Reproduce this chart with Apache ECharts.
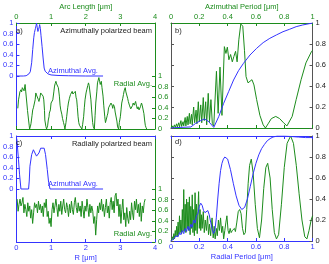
<!DOCTYPE html>
<html><head><meta charset="utf-8">
<script src="https://cdn.jsdelivr.net/npm/echarts@6/dist/echarts.min.js"></script>
<style>html,body{margin:0;padding:0;background:#fff}#c{width:329px;height:264px}</style>
</head><body><div id="c"></div>
<script>
// ---- data ----
const yTicks = [0, 0.2, 0.4, 0.6, 0.8, 1];
const arcTicks = [0, 1, 2, 3, 4];

// panel a) azimuthally polarized beam
const aAzimX = [0,0.05,0.1,0.2,0.28,0.32,0.36,0.40,0.44,0.47,0.50,0.52,0.55,0.57,0.58,0.60,0.62,0.64,0.66,0.67,0.69,0.71,0.74,0.77,0.80,0.83,0.87,0.91,1.0,1.2,1.5,2.0,2.5];
const aAzimY = [0,0.005,0,0,0.005,0.03,0.04,0.08,0.25,0.5,0.72,0.82,0.9,0.96,1.0,0.92,0.84,0.88,0.93,0.97,0.9,0.76,0.56,0.34,0.15,0.09,0.06,0.04,0.02,0.01,0.005,0,0];
const aRadX = [0.04,0.06,0.08,0.10,0.13,0.15,0.17,0.19,0.21,0.22,0.25,0.27,0.30,0.32,0.35,0.37,0.38,0.40,0.42,0.45,0.47,0.49,0.51,0.54,0.56,0.58,0.61,0.63,0.65,0.68,0.70,0.72,0.75,0.77,0.79,0.81,0.82,0.85,0.87,0.90,0.92,0.94,0.95,0.98,1.00,1.02,1.05,1.08,1.10,1.12,1.14,1.16,1.19,1.21,1.24,1.26,1.28,1.31,1.33,1.36,1.38,1.40,1.43,1.45,1.48,1.50,1.53,1.56,1.59,1.61,1.63,1.66,1.68,1.70,1.72,1.74,1.76,1.78,1.80,1.82,1.85,1.87,1.89,1.91,1.94,1.96,1.98,2.01,2.03,2.06,2.08,2.10,2.12,2.15,2.17,2.20,2.22,2.25,2.27,2.29,2.32,2.34,2.36,2.38,2.40,2.42,2.45,2.47,2.50,2.52,2.55,2.57,2.59,2.62,2.64,2.66,2.69,2.71,2.73,2.76,2.78,2.80,2.83,2.85,2.87,2.90,2.92,2.95,2.97,3.00,3.02,3.04,3.07,3.09,3.11,3.14,3.16,3.18,3.21,3.23,3.26,3.28,3.30,3.33,3.35,3.37,3.40,3.42,3.44,3.47,3.49,3.51,3.54,3.56,3.58,3.61,3.63,3.65,3.68,3.70,3.72,3.74,3.76];
const aRadY = [0.39,0.55,0.62,0.70,0.74,0.70,0.78,0.81,0.75,0.72,0.84,0.70,0.49,0.35,0.17,0.06,0,0.04,0.10,0.25,0.36,0.40,0.42,0.55,0.68,0.64,0.62,0.56,0.52,0.60,0.68,0.66,0.71,0.62,0.55,0.35,0.17,0.05,0,0.06,0.17,0.23,0.30,0.36,0.49,0.50,0.55,0.70,0.81,0.86,0.90,0.85,0.87,0.78,0.62,0.45,0.36,0.28,0.20,0.12,0.07,0,0.12,0.23,0.40,0.49,0.58,0.65,0.68,0.71,0.66,0.68,0.64,0.71,0.60,0.55,0.40,0.23,0.12,0.07,0.10,0.05,0,0.08,0.23,0.40,0.55,0.68,0.74,0.82,0.87,0.82,0.81,0.55,0.36,0.12,0.04,0,0.25,0.49,0.70,0.87,0.92,0.97,0.90,0.84,0.90,0.78,0.62,0.45,0.23,0.12,0.17,0.25,0.30,0.40,0.42,0.38,0.49,0.45,0.39,0.46,0.42,0.32,0.29,0.15,0.04,0,0.12,0.23,0.36,0.49,0.58,0.65,0.72,0.78,0.70,0.68,0.58,0.52,0.45,0.42,0.38,0.36,0.44,0.49,0.45,0.46,0.52,0.42,0.38,0.42,0.36,0.33,0.42,0.49,0.45,0.42,0.29,0.17,0.07,0.03,0];

// panel b) azimuthal period spectrum
const bAzimX = [0,0.07,0.14,0.174,0.209,0.237,0.267,0.302,0.337,0.372,0.407,0.442,0.477,0.512,0.558,0.605,0.651,0.698,0.744,0.791,0.837,0.884,0.93,1.0];
const bAzimY = [0,0.006,0.01,0.044,0.07,0.086,0.06,0.006,0.108,0.235,0.346,0.457,0.546,0.616,0.695,0.759,0.813,0.854,0.886,0.917,0.94,0.965,0.981,1.0];
const bRadX = [0,0.01,0.015,0.025,0.03,0.04,0.045,0.055,0.06,0.07,0.075,0.085,0.09,0.1,0.105,0.115,0.12,0.13,0.135,0.145,0.15,0.16,0.167,0.177,0.183,0.193,0.2,0.21,0.217,0.228,0.235,0.245,0.252,0.263,0.272,0.282,0.292,0.302,0.321,0.333,0.346,0.36,0.377,0.388,0.398,0.409,0.421,0.433,0.444,0.456,0.467,0.479,0.493,0.507,0.519,0.53,0.544,0.558,0.572,0.586,0.605,0.628,0.651,0.667,0.686,0.709,0.74,0.767,0.795,0.819,0.833,0.856,0.884,0.919,0.953,0.993,1.0];
const bRadY = [0,0.02,0,0.03,0.005,0.04,0.01,0.05,0.01,0.07,0.015,0.06,0.02,0.1,0.02,0.11,0.03,0.14,0.04,0.13,0.03,0.2,0.05,0.17,0.04,0.25,0.06,0.22,0.05,0.29,0.07,0.25,0.03,0.33,0.06,0.27,0.04,0.02,0.54,0.14,0.58,0.12,0.775,0.71,0.77,0.65,0.70,0.63,0.68,0.73,0.63,0.84,0.99,0.97,0.74,0.49,0.43,0.44,0.46,0.41,0.27,0.12,0.03,0,0.04,0.09,0.11,0.09,0.05,0.02,0.02,0.11,0.27,0.46,0.62,0.73,0.74];

// panel c) radially polarized beam
const cAzimX = [0.01,0.03,0.06,0.09,0.13,0.35,0.37,0.39,0.44,0.49,0.53,0.58,0.61,0.65,0.70,0.75,0.80,0.84,0.89,0.93,0.97,2.5];
const cAzimY = [0.95,0.8,0.55,0.28,0,0,0.15,0.43,0.65,0.74,0.73,0.62,0.59,0.68,0.77,0.80,0.77,0.65,0.37,0.12,0,0];
const cRadStart = 0.02, cRadStep = 0.028; // sampling grid of the radial average (R, µm)
const cRadY = [0.81,0.58,0.71,0.81,0.68,0.74,0.84,0.55,0.71,0.61,0.48,0.74,0.58,0.68,0.45,0.61,0.35,0.55,0.74,0.65,0.71,0.55,0.77,0.61,0.71,0.55,0.68,0.48,0.74,0.65,0.81,0.48,0.58,0.35,0.45,0.29,0.61,0.74,0.55,0.68,0.81,0.65,0.48,0.71,0.58,0.77,0.52,0.68,0.81,0.61,0.55,0.74,0.65,0.48,0.71,0.55,0.77,0.61,0.52,0.74,0.84,0.65,0.55,0.74,0.58,0.68,0.48,0.77,0.61,0.45,0.68,0.58,0.81,0.65,0.48,0.71,0.55,0.68,0.58,0.35,0.48,0.13,0.42,0.68,0.55,0.74,0.61,0.81,0.58,0.71,0.48,0.65,0.81,0.55,0.68,0.45,0.74,0.84,0.61,0.77,0.55,0.87,0.92,0.68,0.81,0.48,0.71,0.35,0.61,0.81,0.42,0.55,0.29,0.65,0.45,0.35,0.58,0.42,0.74,0.55,0.42,0.77,0.61,0.81,0.55,0.71,0.48,0.74,0.39,0.68,0.55,0.74,0.81];

// panel d) radial period spectrum
const dAzimX = [0,0.02,0.035,0.05,0.06,0.07,0.08,0.09,0.1,0.11,0.12,0.13,0.14,0.15,0.16,0.17,0.18,0.19,0.2,0.21,0.22,0.23,0.24,0.25,0.26,0.27,0.28,0.29,0.3,0.31,0.32,0.33,0.34,0.35,0.36,0.37,0.38,0.39,0.4,0.42,0.44,0.46,0.48,0.5,0.51,0.52,0.54,0.56,0.58,0.6,0.62,0.64,0.66,0.68,0.7,0.72,0.75,0.8,0.85,0.9,0.95,1.0];
const dAzimY = [0,0.02,0.05,0.04,0.08,0.06,0.1,0.07,0.12,0.09,0.14,0.1,0.16,0.13,0.2,0.17,0.24,0.26,0.33,0.36,0.34,0.29,0.27,0.28,0.29,0.25,0.18,0.12,0.07,0.1,0.22,0.4,0.55,0.67,0.74,0.78,0.8,0.8,0.78,0.68,0.55,0.43,0.34,0.30,0.30,0.32,0.40,0.52,0.64,0.74,0.82,0.88,0.92,0.955,0.975,0.99,1.0,1.0,0.995,0.99,0.985,0.985];
const dRadX = [0,0.01,0.015,0.02,0.025,0.03,0.035,0.04,0.045,0.05,0.055,0.06,0.065,0.07,0.075,0.08,0.085,0.09,0.095,0.1,0.105,0.11,0.115,0.12,0.125,0.13,0.135,0.14,0.145,0.15,0.155,0.16,0.165,0.17,0.175,0.18,0.185,0.19,0.195,0.2,0.205,0.21,0.215,0.22,0.228,0.235,0.242,0.25,0.258,0.265,0.272,0.28,0.29,0.298,0.305,0.312,0.32,0.327,0.335,0.342,0.35,0.358,0.365,0.372,0.38,0.388,0.395,0.403,0.41,0.418,0.425,0.433,0.44,0.448,0.455,0.465,0.475,0.485,0.495,0.505,0.515,0.525,0.535,0.545,0.555,0.567,0.58,0.595,0.61,0.625,0.64,0.655,0.67,0.683,0.7,0.715,0.73,0.745,0.76,0.78,0.8,0.82,0.845,0.865,0.885,0.905,0.925,0.945,0.96,0.975,0.99,1.0];
const dRadY = [0,0.04,0.01,0.07,0.02,0.1,0.04,0.14,0.05,0.18,0.06,0.24,0.08,0.2,0.07,0.3,0.09,0.49,0.1,0.35,0.08,0.4,0.12,0.37,0.1,0.42,0.06,0.33,0.12,0.44,0.08,0.3,0.05,0.46,0.1,0.35,0.07,0.28,0.47,0.12,0.3,0.1,0.25,0.12,0.28,0.08,0.2,0.1,0.24,0.06,0.16,0.05,0.22,0.03,0.14,0.02,0.12,0.05,0.2,0.1,0.22,0.08,0.14,0.02,0.1,0.18,0.24,0.1,0.07,0.12,0.08,0.1,0.09,0.12,0.09,0.18,0.28,0.3,0.26,0.12,0.06,0.08,0.3,0.55,0.72,0.78,0.65,0.35,0.12,0.03,0.2,0.5,0.7,0.74,0.6,0.3,0.08,0.02,0.06,0.35,0.7,0.93,1.0,0.93,0.72,0.45,0.2,0.04,0.02,0.1,0.2,0.24];

// ---- chart ----
const BLUE = '#3434ff', GREEN = '#1c8c1c', DARK = '#222', GRAY = '#555';
const FONT = 'Liberation Sans';
const FS = 7.5;
const zip = (xs, ys) => xs.map((x, i) => [x, ys[i]]);
const cRadData = cRadY.map((v, i) => [cRadStart + i * cRadStep, v]);

function xAx(grid, pos, min, max, interval, color, opts) {
  opts = opts || {};
  return {
    gridIndex: grid, type: 'value', position: pos, min, max, interval,
    axisLine: { show: true, onZero: false, lineStyle: { color, width: 1 } },
    axisTick: { show: true, inside: true, length: 3, lineStyle: { color } },
    axisLabel: { show: !!opts.labels, color, fontSize: FS, fontFamily: FONT, margin: 2 },
    splitLine: { show: false },
    name: opts.name || '', nameLocation: 'middle', nameGap: opts.nameGap || 12,
    nameTextStyle: { color, fontSize: FS, fontFamily: FONT }
  };
}
function yAx(grid, pos, min, max, color, labelColor, labels, custom) {
  const a = {
    gridIndex: grid, type: 'value', position: pos, min, max,
    axisLine: { show: true, onZero: false, lineStyle: { color, width: 1 } },
    axisTick: { show: true, inside: true, length: 3, lineStyle: { color } },
    axisLabel: { show: labels, color: labelColor, fontSize: FS, fontFamily: FONT, margin: 3 },
    splitLine: { show: false }
  };
  if (custom) { a.axisTick.customValues = yTicks; a.axisLabel.customValues = yTicks; }
  else { a.interval = 0.2; }
  return a;
}
function line(xi, yi, data, color, z) {
  return { type: 'line', xAxisIndex: xi, yAxisIndex: yi, data, showSymbol: false, symbol: 'none',
           lineStyle: { color, width: 1 }, z: z || 2, animation: false, clip: true };
}
function txt(x, y, s, color, align) {
  return { type: 'text', x, y, z: 100, style: { text: s, fill: color, font: FS + 'px "' + FONT + '"', align: align || 'left', verticalAlign: 'middle' } };
}

const chart = echarts.init(document.getElementById('c'), null, { renderer: 'canvas' });
chart.setOption({
  animation: false,
  backgroundColor: '#fff',
  grid: [
    { left: 13, top: 23, width: 142, height: 106 },
    { left: 171, top: 23, width: 143, height: 105 },
    { left: 13, top: 136, width: 142, height: 106 },
    { left: 171, top: 136, width: 143, height: 105 }
  ],
  xAxis: [
    xAx(0, 'top', 0, 4, 1, GREEN, { labels: true, name: 'Arc Length [μm]', nameGap: 12 }),
    xAx(0, 'bottom', 0, 4, 1, GREEN),
    xAx(1, 'top', 0, 1, 0.2, GREEN, { labels: true, name: 'Azimuthal Period [μm]', nameGap: 12 }),
    xAx(1, 'bottom', 0, 1, 0.2, GREEN),
    xAx(2, 'top', 0, 4, 1, BLUE),
    xAx(2, 'bottom', 0, 4, 1, BLUE, { labels: true, name: 'R [μm]', nameGap: 12 }),
    xAx(3, 'top', 0, 1, 0.2, BLUE),
    xAx(3, 'bottom', 0, 1, 0.2, BLUE, { labels: true, name: 'Radial Period [μm]', nameGap: 12 })
  ],
  yAxis: [
    yAx(0, 'left', -1, 1, BLUE, BLUE, true, true),
    yAx(0, 'right', 0, 2, GREEN, GREEN, true, true),
    yAx(1, 'left', 0, 1, GRAY, DARK, false, false),
    yAx(1, 'right', 0, 1, GRAY, DARK, true, false),
    yAx(2, 'left', -1, 1, BLUE, BLUE, true, true),
    yAx(2, 'right', 0, 2, GREEN, GREEN, true, true),
    yAx(3, 'left', 0, 1, GRAY, DARK, false, false),
    yAx(3, 'right', 0, 1, GRAY, DARK, true, false)
  ],
  series: [
    line(0, 1, zip(aRadX, aRadY), GREEN),
    line(0, 0, zip(aAzimX, aAzimY), BLUE),
    line(2, 3, zip(bRadX, bRadY), GREEN),
    line(2, 3, zip(bAzimX, bAzimY), BLUE, 3),
    line(5, 5, cRadData, GREEN),
    line(5, 4, zip(cAzimX, cAzimY), BLUE),
    line(7, 7, zip(dRadX, dRadY), GREEN),
    line(7, 7, zip(dAzimX, dAzimY), BLUE, 3)
  ],
  graphic: [
    txt(16, 31, 'a)', DARK),
    txt(152, 31, 'Azimuthally polarized beam', DARK, 'right'),
    txt(48, 71, 'Azimuthal Avg.', BLUE),
    txt(152, 84, 'Radial Avg.', GREEN, 'right'),
    txt(175, 31, 'b)', DARK),
    txt(16, 143, 'c)', DARK),
    txt(152, 144, 'Radially polarized beam', DARK, 'right'),
    txt(48, 184, 'Azimuthal Avg.', BLUE),
    txt(152, 234, 'Radial Avg.', GREEN, 'right'),
    txt(175, 142, 'd)', DARK)
  ]
});
</script></body></html>
